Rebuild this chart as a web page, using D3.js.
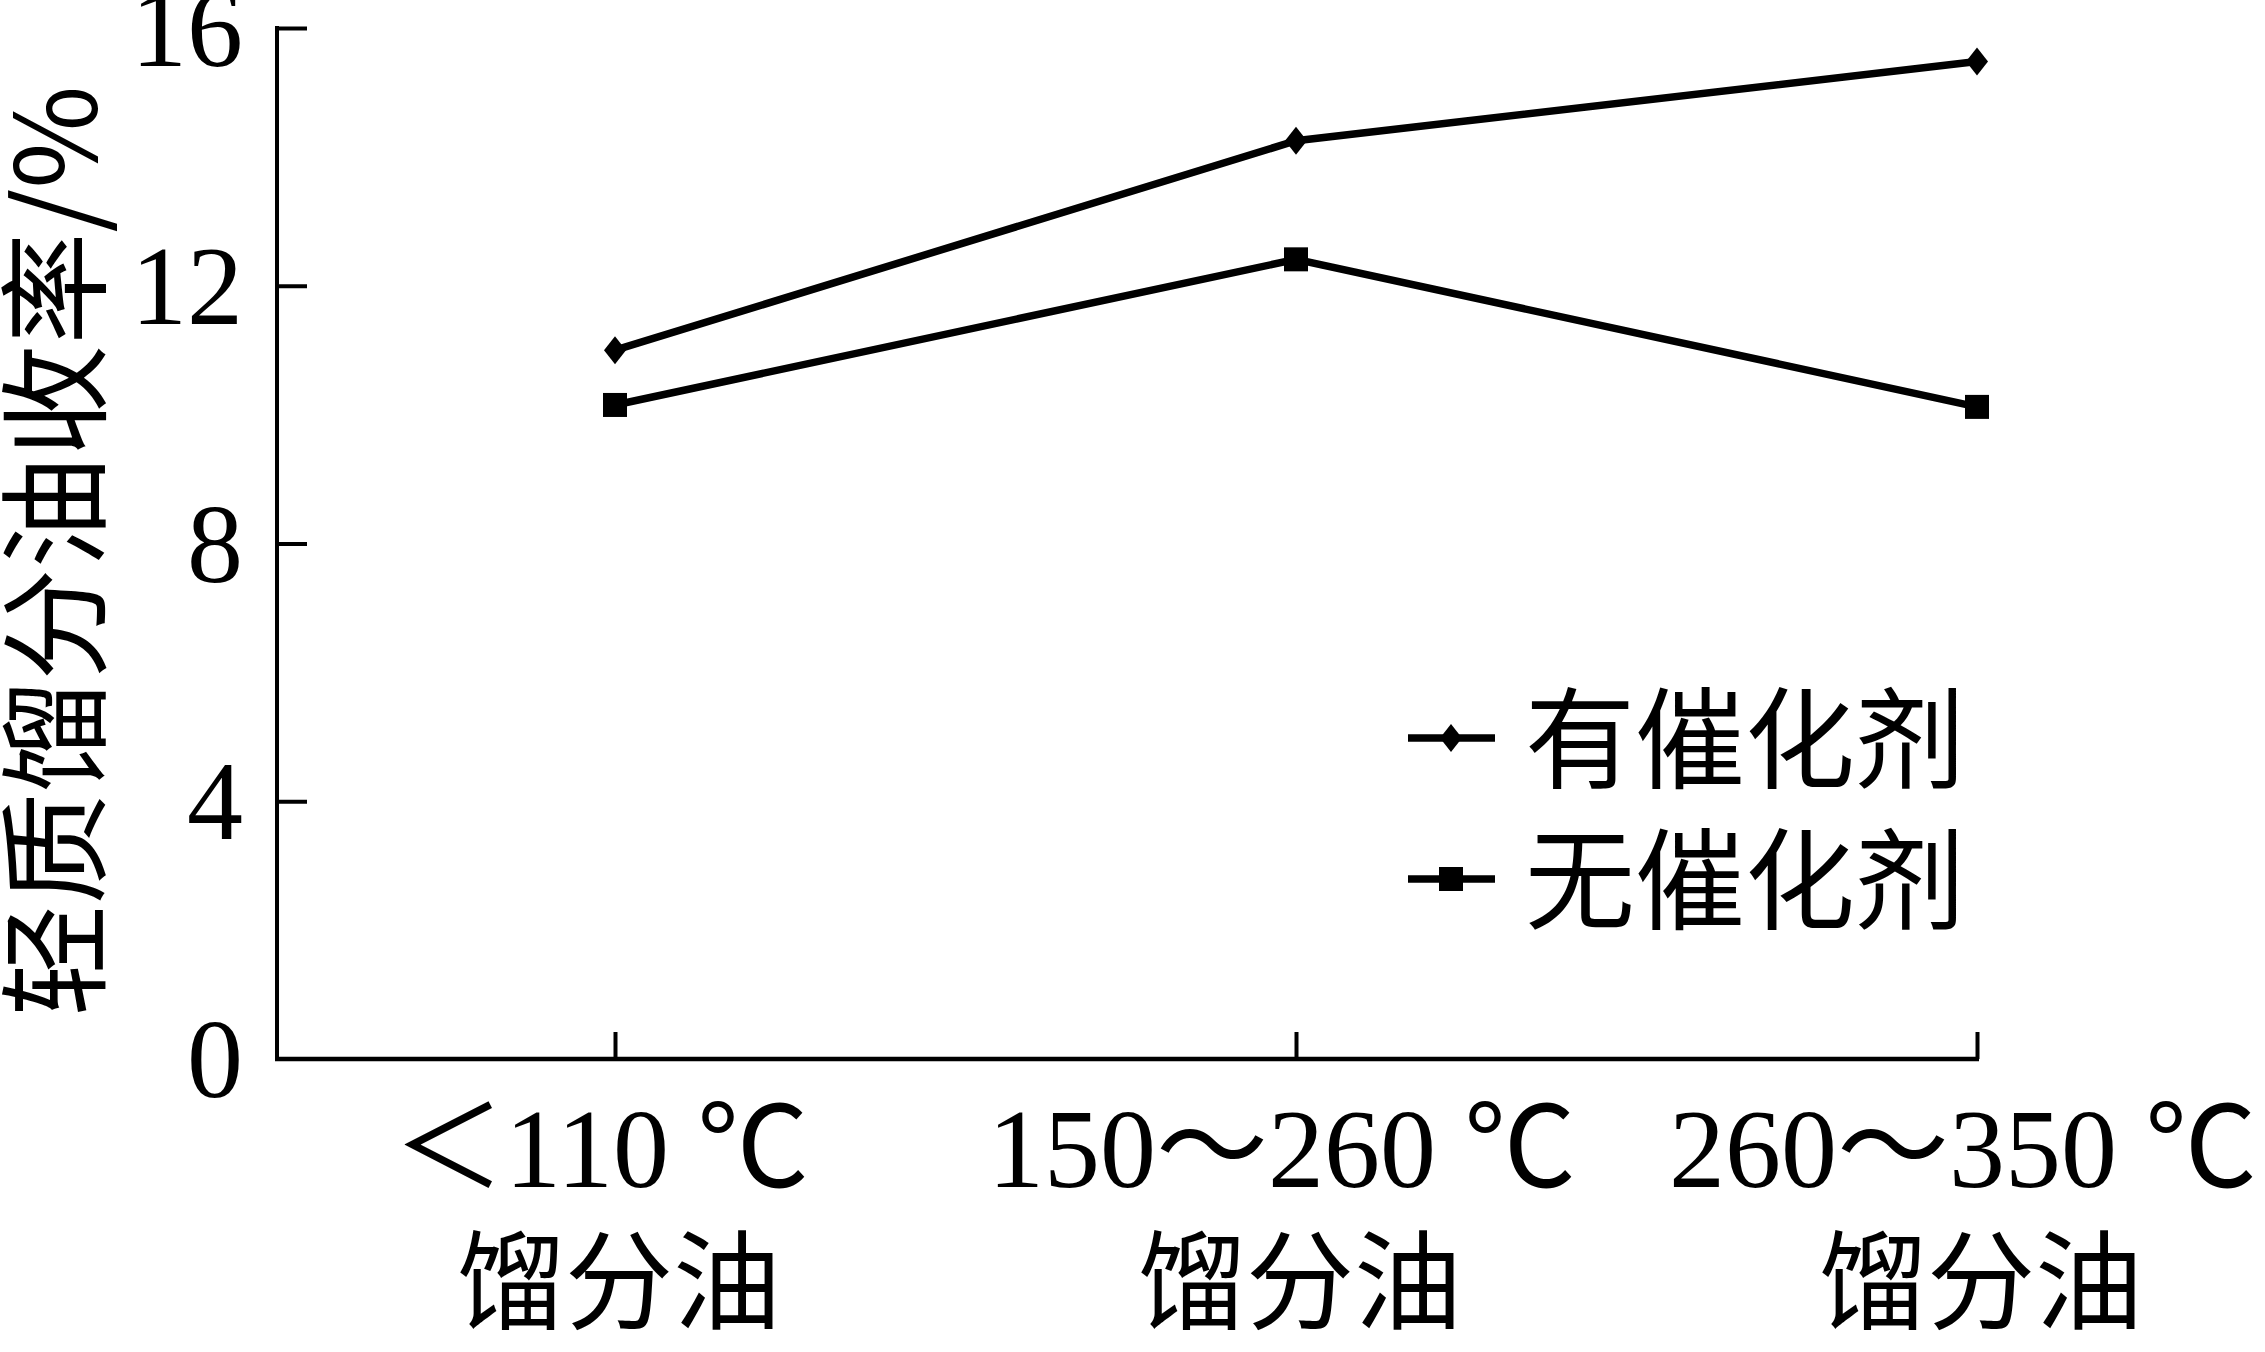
<!DOCTYPE html>
<html>
<head>
<meta charset="utf-8">
<script src="https://cdn.jsdelivr.net/npm/d3@7"></script>
<style>
  html, body { margin: 0; padding: 0; background: #fff; }
  svg { display: block; }
</style>
</head>
<body>
<svg id="chart" width="2265" height="1352"></svg>
<script>
// ---- data ----
const categories = ["c1", "c2", "c3"];
const categoryLine1 = ["＜110 ℃", "150～260 ℃", "260～350 ℃"];
const categoryLine2 = ["馏分油", "馏分油", "馏分油"];
const withCatalyst = [11.0, 14.25, 15.48];
const withoutCatalyst = [10.15, 12.41, 10.12];
const seriesNames = ["有催化剂", "无催化剂"];
const yTicks = [0, 4, 8, 12, 16];
const yTitle = "轻质馏分油收率/%";

// ---- layout ----
const W = 2265, H = 1352;
const axisLeft = 277, axisBottom = 1059, axisTop = 28;
const latin = "'Liberation Serif', 'Noto Sans CJK SC', serif";
const cjk = "'Noto Sans CJK SC', sans-serif";

const svg = d3.select("#chart");
const x = d3.scalePoint().domain(categories).range([615, 1977]);
const y = d3.scaleLinear().domain([0, 16]).range([axisBottom, axisTop]);

// y axis
const yAxis = d3.axisRight(y).tickValues(yTicks).tickSize(30).tickFormat("");
const gy = svg.append("g").attr("transform", `translate(${axisLeft},0)`).call(yAxis);
gy.select(".domain").remove();
gy.selectAll(".tick line").attr("stroke", "#000").attr("stroke-width", 4);
gy.selectAll(".tick").filter(d => d === 0).remove();
svg.append("line").attr("x1", axisLeft).attr("x2", axisLeft)
  .attr("y1", y(16) - 2).attr("y2", axisBottom + 2)
  .attr("stroke", "#000").attr("stroke-width", 4);

// y tick labels
svg.append("g").selectAll("text").data(yTicks).join("text")
  .attr("x", 243).attr("y", d => y(d) + 38)
  .attr("text-anchor", "end")
  .attr("font-family", latin).attr("font-size", 112)
  .attr("fill", "#000")
  .text(d => d);

// x axis
const xAxis = d3.axisTop(x).tickSize(27).tickFormat("");
const gx = svg.append("g").attr("transform", `translate(0,${axisBottom})`).call(xAxis);
gx.select(".domain").remove();
gx.selectAll(".tick line").attr("stroke", "#000").attr("stroke-width", 4);
svg.append("line").attr("x1", axisLeft - 2).attr("x2", x(categories[2]) + 2)
  .attr("y1", axisBottom).attr("y2", axisBottom)
  .attr("stroke", "#000").attr("stroke-width", 4.5);

// x labels
const xl = svg.append("g");
xl.selectAll("text.l1").data(categories).join("text").attr("class", "l1")
  .attr("x", d => x(d) - 14).attr("y", 1187)
  .attr("text-anchor", "middle")
  .attr("font-family", latin).attr("font-size", 112).attr("fill", "#000")
  .text((d, i) => categoryLine1[i]);
xl.selectAll("text.l2").data(categories).join("text").attr("class", "l2")
  .attr("x", d => x(d) + 4).attr("y", 1321)
  .attr("text-anchor", "middle")
  .attr("font-family", cjk).attr("font-size", 108).attr("fill", "#000")
  .text((d, i) => categoryLine2[i]);

// y title
svg.append("text")
  .attr("transform", "translate(97,551) rotate(-90)")
  .attr("text-anchor", "middle")
  .attr("font-family", cjk).attr("font-size", 112).attr("fill", "#000")
  .text(yTitle);

// lines
const line = d3.line().x((d, i) => x(categories[i])).y(d => y(d));
const seriesData = [withCatalyst, withoutCatalyst];
svg.append("g").selectAll("path").data(seriesData).join("path")
  .attr("d", line)
  .attr("fill", "none").attr("stroke", "#000").attr("stroke-width", 7.5)
  .attr("stroke-linejoin", "miter");

// markers
function diamond(g, cx, cy) {
  g.append("path")
    .attr("d", `M${cx},${cy - 14} L${cx + 11},${cy} L${cx},${cy + 14} L${cx - 11},${cy} Z`)
    .attr("fill", "#000");
}
function square(g, cx, cy) {
  g.append("rect").attr("x", cx - 12).attr("y", cy - 12)
    .attr("width", 24).attr("height", 24).attr("fill", "#000");
}
const mk = svg.append("g");
withCatalyst.forEach((v, i) => diamond(mk, x(categories[i]), y(v)));
withoutCatalyst.forEach((v, i) => square(mk, x(categories[i]), y(v)));

// legend
const legendRows = [738, 879];
const lg = svg.append("g");
seriesNames.forEach((name, i) => {
  const ly = legendRows[i];
  lg.append("line").attr("x1", 1408).attr("x2", 1495).attr("y1", ly).attr("y2", ly)
    .attr("stroke", "#000").attr("stroke-width", 7.5);
  if (i === 0) diamond(lg, 1451, ly); else square(lg, 1451, ly);
  lg.append("text").attr("x", 1525).attr("y", ly + 42)
    .attr("font-family", cjk).attr("font-size", 110).attr("fill", "#000")
    .text(name);
});
</script>
</body>
</html>
